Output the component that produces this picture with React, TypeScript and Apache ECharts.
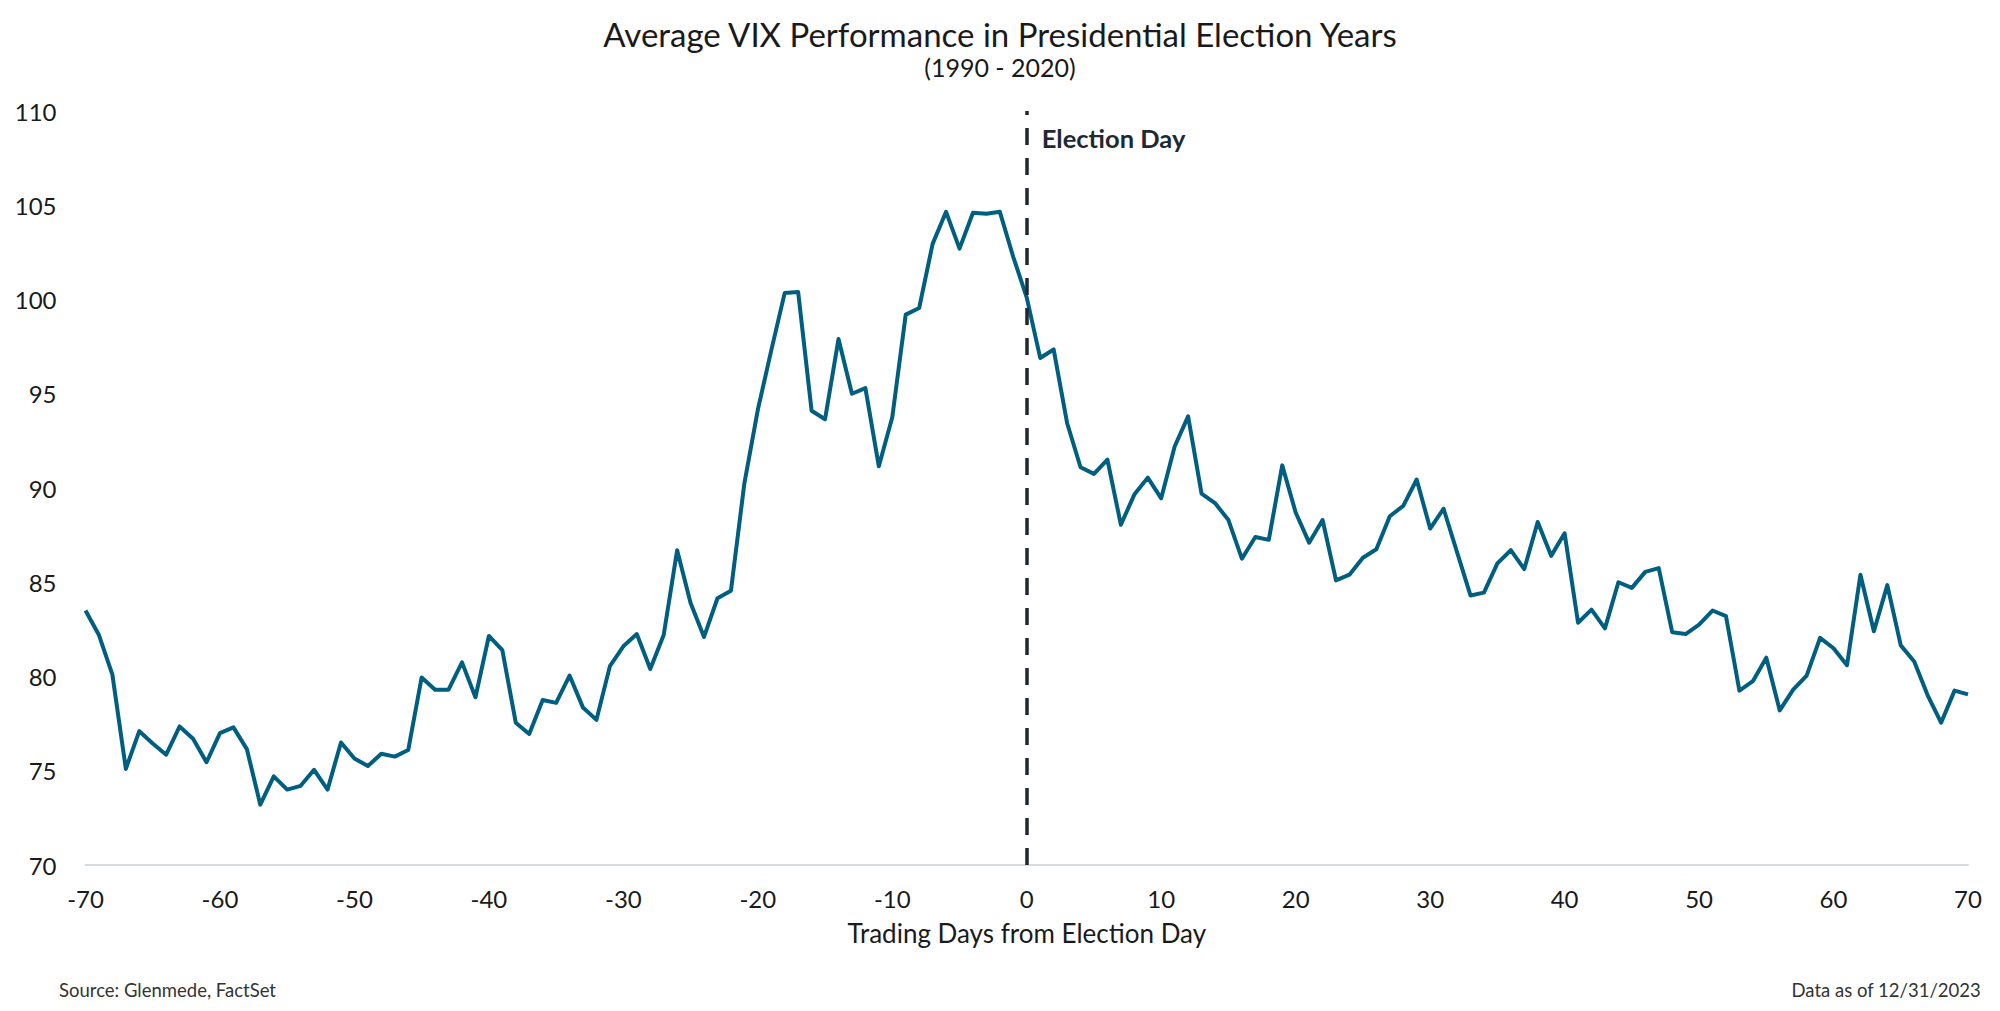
import React, { useEffect, useRef } from "react";
import * as echarts from "echarts";

const titleText = "Average VIX Performance in Presidential Election Years";
const subtitleText = "(1990 - 2020)";
const xAxisTitle = "Trading Days from Election Day";
const sourceText = "Source: Glenmede, FactSet";
const dateText = "Data as of 12/31/2023";
const markerLabel = "Election Day";

const firstDay = -70;
// Average VIX indexed level, trading days -70 .. +70
const vixValues = [
  83.5, 82.2, 80.1, 75.1, 77.1, 76.45, 75.85, 77.35, 76.7, 75.45,
  77.0, 77.3, 76.15, 73.2, 74.7, 74.0, 74.2, 75.05, 74.0, 76.5,
  75.65, 75.25, 75.9, 75.75, 76.1, 79.95, 79.3, 79.3, 80.75, 78.9,
  82.15, 81.4, 77.55, 76.95, 78.75, 78.6, 80.05, 78.35, 77.7, 80.55,
  81.6, 82.25, 80.4, 82.2, 86.7, 83.9, 82.1, 84.15, 84.55, 90.25,
  94.15, 97.3, 100.35, 100.4, 94.1, 93.65, 97.9, 95.0, 95.3, 91.15,
  93.75, 99.2, 99.55, 102.95, 104.65, 102.7, 104.6, 104.55, 104.65, 102.25,
  100.1,
  96.9, 97.35, 93.45, 91.1, 90.75, 91.5, 88.05, 89.65, 90.55, 89.45,
  92.2, 93.8, 89.7, 89.2, 88.3, 86.25, 87.4, 87.25, 91.2, 88.7,
  87.1, 88.3, 85.1, 85.4, 86.3, 86.75, 88.5, 89.05, 90.45, 87.85,
  88.9, 86.6, 84.3, 84.45, 86.0, 86.7, 85.7, 88.2, 86.4, 87.6,
  82.85, 83.55, 82.55, 85.0, 84.7, 85.55, 85.75, 82.35, 82.25, 82.75,
  83.5, 83.2, 79.25, 79.75, 81.0, 78.2, 79.3, 80.05, 82.05, 81.5,
  80.6, 85.4, 82.4, 84.85, 81.65, 80.8, 79.0, 77.55, 79.25, 79.05,
];

const electionDay = 0;
const yMin = 70;
const yMax = 110;
const yStep = 5;
const xMin = -70;
const xMax = 70;
const xStep = 10;

const FONT = "Lato, 'Noto Sans', sans-serif";
const LINE_COLOR = "#005f80";
const TEXT_COLOR = "#1a1a1a";

export default function App() {
  const ref = useRef<HTMLDivElement>(null);

  useEffect(() => {
    document.body.style.margin = "0";
    document.body.style.overflow = "hidden";
    if (!ref.current) return;
    const chart = echarts.init(ref.current, undefined, { renderer: "svg" });
    const seriesData = vixValues.map((v, i) => [firstDay + i, v]);

    chart.setOption({
      animation: false,
      backgroundColor: "#ffffff",
      textStyle: { fontFamily: FONT },
      title: [
        {
          text: titleText,
          left: "center",
          top: 12,
          textStyle: { fontFamily: FONT, fontSize: 33, fontWeight: "normal", color: TEXT_COLOR },
        },
        {
          text: subtitleText,
          left: "center",
          top: 49,
          textStyle: { fontFamily: FONT, fontSize: 25, fontWeight: "normal", color: TEXT_COLOR },
        },
        {
          text: sourceText,
          left: 54,
          top: 975,
          textStyle: { fontFamily: FONT, fontSize: 18.5, fontWeight: "normal", color: "#333333" },
        },
        {
          text: dateText,
          right: 14,
          top: 975,
          textStyle: { fontFamily: FONT, fontSize: 18.5, fontWeight: "normal", color: "#333333" },
        },
      ],
      grid: { left: 85.5, right: 32, top: 111, bottom: 146, containLabel: false },
      xAxis: {
        type: "value",
        min: xMin,
        max: xMax,
        interval: xStep,
        name: xAxisTitle,
        nameLocation: "middle",
        nameGap: 55,
        nameTextStyle: { fontFamily: FONT, fontSize: 26, color: TEXT_COLOR },
        axisLine: { show: true, lineStyle: { color: "#d5dce4", width: 2 } },
        axisTick: { show: false },
        splitLine: { show: false },
        axisLabel: { fontFamily: FONT, fontSize: 24, color: TEXT_COLOR, margin: 21 },
      },
      yAxis: {
        type: "value",
        min: yMin,
        max: yMax,
        interval: yStep,
        axisLine: { show: false },
        axisTick: { show: false },
        splitLine: { show: false },
        axisLabel: { fontFamily: FONT, fontSize: 24, color: TEXT_COLOR, margin: 29 },
      },
      series: [
        {
          type: "line",
          data: seriesData,
          showSymbol: false,
          symbol: "none",
          lineStyle: { color: LINE_COLOR, width: 4, join: "round" },
          z: 3,
          markLine: {
            silent: true,
            symbol: "none",
            label: { show: false },
            lineStyle: { color: "#1f2730", width: 3.5, type: [17, 13] },
            data: [{ xAxis: electionDay }],
            z: 4,
          },
        },
      ],
    });

    const p = chart.convertToPixel({ xAxisIndex: 0, yAxisIndex: 0 }, [electionDay, yMax]) as number[];
    chart.setOption({
      graphic: [
        {
          type: "text",
          x: p[0] + 15,
          y: p[1] + 27,
          style: {
            text: markerLabel,
            fontFamily: FONT,
            fontSize: 25.5,
            fontWeight: "bold",
            fill: "#1f2933",
            textVerticalAlign: "middle",
            verticalAlign: "middle",
          },
        },
      ],
    });

    return () => chart.dispose();
  }, []);

  return <div ref={ref} style={{ width: 2000, height: 1011 }} />;
}
